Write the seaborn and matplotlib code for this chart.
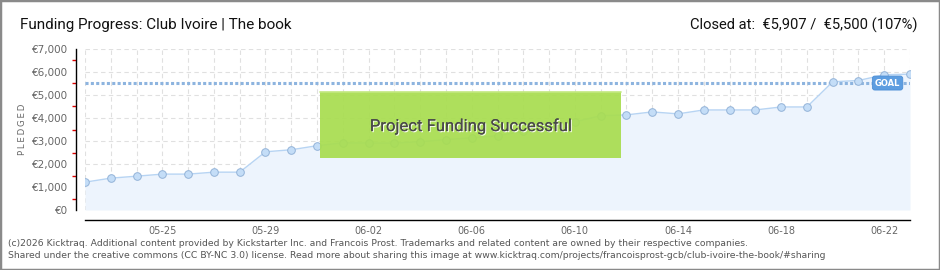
import matplotlib
matplotlib.use('Agg')
import matplotlib.pyplot as plt
import matplotlib.patheffects as pe
from matplotlib.patches import Rectangle
from matplotlib.ticker import FixedLocator
import seaborn as sns
import pandas as pd

# ---- data ----
dates = ['05-22', '05-23', '05-24', '05-25', '05-26', '05-27', '05-28', '05-29',
         '05-30', '05-31', '06-01', '06-02', '06-03', '06-04', '06-05', '06-06',
         '06-07', '06-08', '06-09', '06-10', '06-11', '06-12', '06-13', '06-14',
         '06-15', '06-16', '06-17', '06-18', '06-19', '06-20', '06-21', '06-22',
         '06-23']
pledged = [1210, 1385, 1470, 1560, 1560, 1645, 1645, 2530, 2620, 2795,
           2920, 2910, 2910, 2970, 3060, 3140, 3230, 3420, 3620, 3830,
           4100, 4135, 4265, 4180, 4350, 4350, 4350, 4480, 4480, 5575,
           5630, 5880, 5907]
goal = 5500
y_ticks = [0, 1000, 2000, 3000, 4000, 5000, 6000, 7000]
labeled_dates = ['05-25', '05-29', '06-02', '06-06', '06-10', '06-14', '06-18', '06-22']

title = 'Funding Progress: Club Ivoire | The book'
closed_text = 'Closed at:  €5,907 /  €5,500 (107%)'
banner = 'Project Funding Successful'
footer1 = ('(c)2026 Kicktraq. Additional content provided by Kickstarter Inc. and Francois Prost. '
           'Trademarks and related content are owned by their respective companies.')
footer2 = ('Shared under the creative commons (CC BY-NC 3.0) license. Read more about sharing this image at '
           'www.kicktraq.com/projects/francoisprost-gcb/club-ivoire-the-book/#sharing')

df = pd.DataFrame({'day': range(len(dates)), 'date': dates, 'pledged': pledged})

sns.set_theme(style='white')
plt.rcParams['font.family'] = ['DejaVu Sans']
head_font = ['Roboto', 'DejaVu Sans']

fig = plt.figure(figsize=(9.4, 2.7), dpi=100)
fig.patch.set_facecolor('white')
ax = fig.add_axes([85 / 940, 60 / 270, 825 / 940, 161 / 270])
ax.set_facecolor('white')

n = len(dates)
ax.set_xlim(0, n - 1)
ax.set_ylim(0, 7000)

# fill under the line
ax.fill_between(df['day'], df['pledged'], 0, color='#edf4fd', zorder=1, linewidth=0)

# goal line
ax.axhline(goal, color='#8db4df', linewidth=2.2, linestyle=(0, (1.0, 0.75)),
           dash_capstyle='butt', zorder=2)

# pledged line
sns.lineplot(data=df, x='day', y='pledged', ax=ax, color='#b7d4f3', linewidth=1.0,
             marker='o', markersize=5.5, markerfacecolor='#c4ddf7',
             markeredgecolor='#93b3d8', markeredgewidth=0.7, zorder=3)

# ticks & grid
ax.set_xticks(range(n))
ax.set_xticklabels([d if d in labeled_dates else '' for d in dates])
ax.set_yticks(y_ticks)
ax.set_yticklabels([f'€{v:,}' for v in y_ticks])
ax.yaxis.set_minor_locator(FixedLocator([v + 500 for v in y_ticks[:-1]]))
ax.grid(True, which='major', color='#e0e0e0', linestyle=(0, (4, 3)), linewidth=0.8, zorder=0)
ax.set_axisbelow(True)

for s in ['top', 'right']:
    ax.spines[s].set_visible(False)
ax.spines['left'].set_position(('outward', 6.5))
ax.spines['bottom'].set_position(('outward', 7.2))
for s in ['left', 'bottom']:
    ax.spines[s].set_color('black')
    ax.spines[s].set_linewidth(1.0)

ax.tick_params(axis='x', which='major', direction='inout', length=5, width=1, color='black',
               labelsize=7, labelcolor='#666666', pad=2)
ax.tick_params(axis='y', which='major', direction='inout', length=6, width=1, color='black',
               labelsize=7.5, labelcolor='#666666', pad=3)
ax.tick_params(axis='y', which='minor', direction='out', length=3, width=1, color='#dd0000', left=True)
ax.set_xlabel('')
ax.set_ylabel('\u2009'.join('PLEDGED'), fontsize=6.2, color='#666666', labelpad=3)

# GOAL label
ax.text(31.13, goal + 20, 'GOAL', ha='center', va='center', color='white', fontsize=6,
        fontweight='bold', zorder=6,
        bbox=dict(boxstyle='round,pad=0.3,rounding_size=0.3', fc='#5d9de0', ec='#4d8fd6', lw=0.6))

# success banner
ax.add_patch(Rectangle((9.12, 2270), 11.67, 2880, facecolor='#a8dd50', edgecolor='none',
                       alpha=0.93, zorder=5))
ax.plot([9.12, 20.79], [5150, 5150], color='#c2e880', lw=1.2, zorder=5)
ax.text(14.95, 3650, banner, ha='center', va='center', fontsize=12, color='#4a4a4a', zorder=6,
        family=head_font,
        path_effects=[pe.withSimplePatchShadow(offset=(0.8, -0.8), shadow_rgbFace='white', alpha=0.9),
                      pe.Normal()])

# header texts
fig.text(20 / 940, 1 - 25 / 270, title, ha='left', va='center', fontsize=11, color='#111111',
         family=head_font)
fig.text(918 / 940, 1 - 25 / 270, closed_text, ha='right', va='center', fontsize=10.6, color='#111111',
         family=head_font)

# footer
fig.text(8 / 940, 1 - 243 / 270, footer1, ha='left', va='center', fontsize=6.7, color='#555555')
fig.text(8 / 940, 1 - 256 / 270, footer2, ha='left', va='center', fontsize=6.7, color='#555555')

# border
fig.add_artist(Rectangle((0, 0), 1, 1, transform=fig.transFigure, fill=False,
                         edgecolor='#8a8a8a', linewidth=2.5))

fig.savefig('out.png', dpi=100, facecolor='white')
